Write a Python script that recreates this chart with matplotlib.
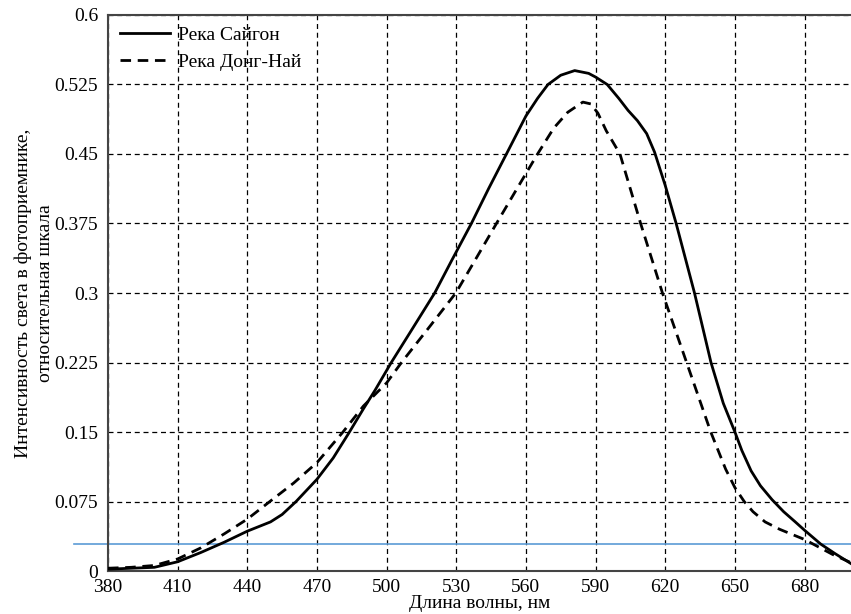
import matplotlib
matplotlib.use("Agg")
import matplotlib.pyplot as plt

plt.rcParams['font.family'] = ['Liberation Serif', 'DejaVu Serif']

# Река Сайгон (solid)
saigon_nm = [380, 390, 400, 410, 420, 430, 440, 445, 450, 455, 461, 470, 477, 483.5, 490,
             495, 502, 510, 520.7, 528, 536.5, 544, 551.6, 560, 565, 569.5, 575, 581, 587,
             590, 595, 600, 604, 608, 612, 615.4, 620, 624.7, 632.6, 639.7, 645, 650, 653,
             657, 661, 666, 671, 676, 680, 687, 693, 700]
saigon_val = [0.002, 0.003, 0.004, 0.010, 0.020, 0.031, 0.043, 0.048, 0.053, 0.061, 0.075,
              0.099, 0.122, 0.148, 0.175, 0.195, 0.225, 0.257, 0.300, 0.335, 0.375, 0.413,
              0.450, 0.491, 0.510, 0.525, 0.535, 0.540, 0.537, 0.533, 0.525, 0.510, 0.497,
              0.486, 0.472, 0.452, 0.416, 0.375, 0.300, 0.225, 0.181, 0.150, 0.130, 0.108,
              0.092, 0.077, 0.064, 0.053, 0.044, 0.029, 0.019, 0.008]

# Река Донг-Най (dashed)
dongnai_nm = [380, 390, 400, 410, 420, 430, 440, 449.7, 460, 470, 481.2, 490, 500, 506.4,
              518, 529.8, 538, 547.3, 556, 565, 572, 578, 584.5, 588, 591, 594.6, 600.5,
              609.4, 618.8, 629.2, 639.6, 646, 650, 654, 657.8, 663, 669.3, 680, 692, 700]
dongnai_val = [0.003, 0.004, 0.006, 0.013, 0.025, 0.040, 0.056, 0.075, 0.095, 0.117, 0.150,
               0.178, 0.203, 0.225, 0.262, 0.300, 0.335, 0.375, 0.412, 0.450, 0.478, 0.495,
               0.506, 0.504, 0.494, 0.475, 0.450, 0.375, 0.300, 0.225, 0.150, 0.110, 0.090,
               0.075, 0.064, 0.053, 0.045, 0.034, 0.018, 0.009]

threshold = 0.029

x_ticks = [380, 410, 440, 470, 500, 530, 560, 590, 620, 650, 680]
y_ticks = [0, 0.075, 0.15, 0.225, 0.3, 0.375, 0.45, 0.525, 0.6]
y_tick_labels = ['0', '0.075', '0.15', '0.225', '0.3', '0.375', '0.45', '0.525', '0.6']

fig = plt.figure(figsize=(8.51, 6.14), dpi=100)
ax = fig.add_axes([0.1269, 0.0700, 0.8731, 0.9056])

ax.plot(saigon_nm, saigon_val, color='black', lw=2.0, label='Река Сайгон', zorder=3)
ax.plot(dongnai_nm, dongnai_val, color='black', lw=2.0, linestyle=(0, (3.8, 2.4)),
        label='Река Донг-Най', zorder=3)

ax.axhline(threshold, xmin=-0.046, xmax=1.0, color='#5b9bd5', lw=1.2, clip_on=False, zorder=2)

ax.set_xlim(380, 700)
ax.set_ylim(0, 0.6)
ax.set_xticks(x_ticks)
ax.set_yticks(y_ticks)
ax.set_yticklabels(y_tick_labels)
ax.tick_params(axis='both', length=0, labelsize=14)
ax.tick_params(axis='y', pad=7)
ax.tick_params(axis='x', pad=6)

ax.grid(True, color='black', linestyle=(0, (4, 3)), lw=0.9, zorder=1)

for s in ['left', 'bottom', 'top']:
    ax.spines[s].set_color('#444444')
    ax.spines[s].set_linewidth(1.5)
ax.spines['right'].set_visible(False)

ax.set_xlabel('Длина волны, нм', fontsize=14, labelpad=-1)
ax.set_ylabel('Интенсивность света в фотоприемнике,\nотносительная шкала', fontsize=14,
              labelpad=0, linespacing=1.45)

leg = ax.legend(loc='upper left', frameon=False, fontsize=14, handlelength=2.6,
                borderaxespad=0.2, handletextpad=0.4, labelspacing=0.45)

fig.savefig('out.png', dpi=100)
